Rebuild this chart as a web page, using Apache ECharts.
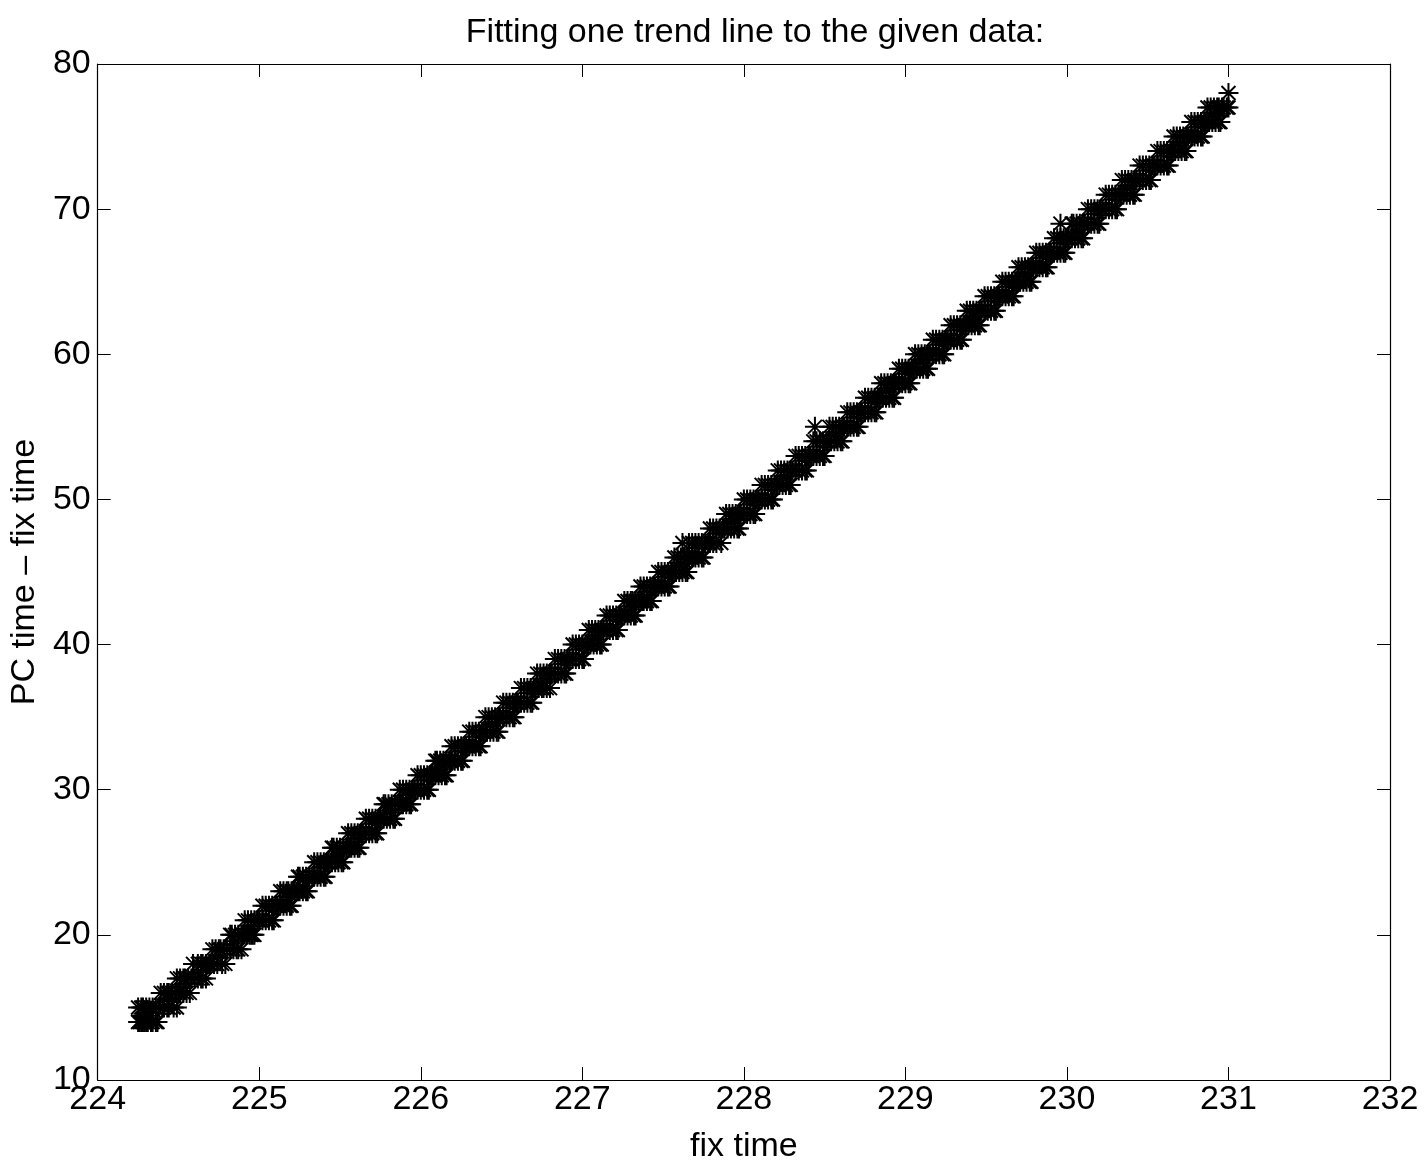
<!DOCTYPE html>
<html>
<head>
<meta charset="utf-8">
<script src="https://cdn.jsdelivr.net/npm/echarts@6/dist/echarts.min.js"></script>
<style>
html,body{margin:0;padding:0;background:#fff;}
#chart{width:1426px;height:1169px;}
</style>
</head>
<body>
<div id="chart"></div>
<script>
// Tick labels
const xTicks = [224, 225, 226, 227, 228, 229, 230, 231, 232];
const yTicks = [10, 20, 30, 40, 50, 60, 70, 80];

// PC time − fix time levels (integer seconds)
const yLevels = [14,15,16,17,18,19,20,21,22,23,24,25,26,27,28,29,30,31,32,33,34,35,36,37,38,39,40,41,42,43,44,45,46,47,48,49,50,51,52,53,54,55,56,57,58,59,60,61,62,63,64,65,66,67,68,69,70,71,72,73,74,75,76,77,78];

// fix time values observed at each level
const xByLevel = [
  [224.25, 224.26, 224.27, 224.28, 224.29, 224.30, 224.31, 224.33, 224.34, 224.36, 224.37],
  [224.25, 224.27, 224.28, 224.30, 224.32, 224.34, 224.36, 224.38, 224.41, 224.43, 224.44, 224.47, 224.49],
  [224.39, 224.41, 224.43, 224.44, 224.46, 224.48, 224.50, 224.51, 224.53, 224.55, 224.57],
  [224.49, 224.51, 224.53, 224.54, 224.56, 224.58, 224.60, 224.62, 224.64, 224.65, 224.67],
  [224.59, 224.62, 224.64, 224.65, 224.67, 224.69, 224.70, 224.72, 224.74, 224.77, 224.79],
  [224.71, 224.73, 224.75, 224.76, 224.78, 224.80, 224.82, 224.84, 224.86, 224.87, 224.89],
  [224.82, 224.83, 224.85, 224.87, 224.89, 224.90, 224.92, 224.94, 224.95, 224.96, 224.97],
  [224.91, 224.93, 224.95, 224.97, 224.99, 225.00, 225.02, 225.04, 225.06, 225.08, 225.09],
  [225.02, 225.04, 225.06, 225.08, 225.10, 225.11, 225.13, 225.15, 225.17, 225.19, 225.20],
  [225.13, 225.15, 225.17, 225.18, 225.20, 225.22, 225.24, 225.25, 225.27, 225.29, 225.30],
  [225.24, 225.25, 225.27, 225.29, 225.31, 225.33, 225.34, 225.36, 225.38, 225.40, 225.41],
  [225.34, 225.36, 225.38, 225.40, 225.42, 225.43, 225.45, 225.47, 225.49, 225.51, 225.52],
  [225.45, 225.46, 225.48, 225.50, 225.52, 225.54, 225.56, 225.57, 225.59, 225.61, 225.62],
  [225.55, 225.57, 225.59, 225.61, 225.63, 225.64, 225.66, 225.68, 225.70, 225.72, 225.73],
  [225.66, 225.68, 225.70, 225.72, 225.74, 225.75, 225.77, 225.79, 225.81, 225.83, 225.84],
  [225.77, 225.78, 225.80, 225.82, 225.84, 225.86, 225.88, 225.89, 225.91, 225.93, 225.94],
  [225.87, 225.89, 225.91, 225.93, 225.95, 225.96, 225.98, 226.00, 226.02, 226.04, 226.05],
  [225.98, 226.00, 226.02, 226.04, 226.06, 226.07, 226.09, 226.11, 226.13, 226.15, 226.16],
  [226.09, 226.10, 226.12, 226.14, 226.16, 226.18, 226.19, 226.21, 226.23, 226.25, 226.26],
  [226.19, 226.21, 226.23, 226.25, 226.27, 226.28, 226.30, 226.32, 226.34, 226.36, 226.37],
  [226.30, 226.32, 226.34, 226.36, 226.38, 226.39, 226.41, 226.43, 226.45, 226.47, 226.48],
  [226.40, 226.42, 226.44, 226.46, 226.48, 226.49, 226.51, 226.53, 226.55, 226.57, 226.58],
  [226.51, 226.53, 226.55, 226.57, 226.59, 226.60, 226.62, 226.64, 226.66, 226.68, 226.69],
  [226.62, 226.64, 226.66, 226.68, 226.70, 226.71, 226.73, 226.75, 226.76, 226.78, 226.80],
  [226.72, 226.74, 226.76, 226.78, 226.80, 226.81, 226.83, 226.85, 226.87, 226.89, 226.90],
  [226.83, 226.85, 226.87, 226.89, 226.91, 226.92, 226.94, 226.96, 226.98, 227.00, 227.01],
  [226.94, 226.96, 226.98, 227.00, 227.02, 227.03, 227.05, 227.07, 227.09, 227.11, 227.12],
  [227.04, 227.06, 227.08, 227.10, 227.12, 227.13, 227.15, 227.17, 227.19, 227.21, 227.22],
  [227.15, 227.17, 227.19, 227.21, 227.23, 227.24, 227.26, 227.28, 227.30, 227.32, 227.33],
  [227.26, 227.28, 227.30, 227.31, 227.33, 227.35, 227.37, 227.38, 227.40, 227.42, 227.43],
  [227.36, 227.38, 227.40, 227.42, 227.44, 227.45, 227.47, 227.49, 227.51, 227.53, 227.54],
  [227.47, 227.49, 227.51, 227.53, 227.55, 227.56, 227.58, 227.60, 227.62, 227.64, 227.65],
  [227.57, 227.59, 227.61, 227.63, 227.65, 227.66, 227.68, 227.70, 227.72, 227.74, 227.75],
  [227.62, 227.66, 227.68, 227.70, 227.72, 227.74, 227.76, 227.78, 227.79, 227.81, 227.83, 227.86],
  [227.79, 227.81, 227.83, 227.85, 227.87, 227.88, 227.90, 227.92, 227.94, 227.96, 227.97],
  [227.89, 227.91, 227.93, 227.95, 227.97, 227.98, 228.00, 228.02, 228.04, 228.06, 228.07],
  [228.00, 228.02, 228.04, 228.06, 228.08, 228.09, 228.11, 228.13, 228.15, 228.17, 228.18],
  [228.11, 228.13, 228.15, 228.17, 228.19, 228.20, 228.22, 228.24, 228.26, 228.28, 228.29],
  [228.21, 228.23, 228.25, 228.27, 228.29, 228.30, 228.32, 228.34, 228.36, 228.38, 228.39],
  [228.32, 228.34, 228.36, 228.38, 228.40, 228.41, 228.43, 228.45, 228.47, 228.49, 228.50],
  [228.43, 228.45, 228.47, 228.49, 228.51, 228.52, 228.54, 228.56, 228.58, 228.60, 228.61],
  [228.44, 228.53, 228.55, 228.57, 228.59, 228.61, 228.62, 228.64, 228.66, 228.68, 228.70, 228.71],
  [228.64, 228.66, 228.68, 228.70, 228.72, 228.73, 228.75, 228.77, 228.79, 228.81, 228.82],
  [228.75, 228.77, 228.79, 228.81, 228.83, 228.84, 228.86, 228.88, 228.90, 228.92, 228.93],
  [228.85, 228.87, 228.89, 228.91, 228.93, 228.94, 228.96, 228.98, 229.00, 229.02, 229.03],
  [228.96, 228.98, 229.00, 229.02, 229.04, 229.05, 229.07, 229.09, 229.11, 229.13, 229.14],
  [229.06, 229.08, 229.10, 229.12, 229.14, 229.15, 229.17, 229.19, 229.21, 229.23, 229.24],
  [229.17, 229.19, 229.21, 229.23, 229.25, 229.26, 229.28, 229.30, 229.32, 229.34, 229.35],
  [229.28, 229.30, 229.32, 229.34, 229.36, 229.37, 229.39, 229.41, 229.43, 229.45, 229.46],
  [229.38, 229.40, 229.42, 229.44, 229.46, 229.47, 229.49, 229.51, 229.53, 229.55, 229.56],
  [229.49, 229.51, 229.53, 229.55, 229.57, 229.58, 229.60, 229.62, 229.64, 229.66, 229.67],
  [229.60, 229.62, 229.64, 229.66, 229.68, 229.69, 229.71, 229.73, 229.75, 229.77, 229.78],
  [229.70, 229.72, 229.74, 229.76, 229.78, 229.79, 229.81, 229.83, 229.85, 229.87, 229.88],
  [229.81, 229.83, 229.85, 229.87, 229.89, 229.90, 229.92, 229.94, 229.96, 229.98, 229.99],
  [229.92, 229.94, 229.96, 229.98, 230.00, 230.01, 230.03, 230.05, 230.07, 230.09, 230.10],
  [229.96, 230.03, 230.04, 230.06, 230.08, 230.10, 230.11, 230.13, 230.15, 230.17, 230.19, 230.20],
  [230.13, 230.15, 230.17, 230.19, 230.21, 230.22, 230.24, 230.26, 230.28, 230.30, 230.31],
  [230.24, 230.26, 230.28, 230.30, 230.32, 230.33, 230.35, 230.37, 230.39, 230.41, 230.42],
  [230.34, 230.36, 230.38, 230.40, 230.42, 230.43, 230.45, 230.47, 230.49, 230.51, 230.52],
  [230.45, 230.47, 230.49, 230.51, 230.53, 230.54, 230.56, 230.58, 230.60, 230.62, 230.63],
  [230.56, 230.58, 230.60, 230.62, 230.64, 230.65, 230.67, 230.69, 230.71, 230.73, 230.74],
  [230.66, 230.68, 230.70, 230.72, 230.74, 230.75, 230.77, 230.79, 230.81, 230.83, 230.84],
  [230.77, 230.79, 230.81, 230.83, 230.85, 230.86, 230.88, 230.90, 230.92, 230.94, 230.95],
  [230.87, 230.89, 230.91, 230.93, 230.94, 230.96, 230.97, 230.99, 231.00],
  [231.00]
];

const points = [];
yLevels.forEach((y, i) => xByLevel[i].forEach(x => points.push([x, y])));

const FONT = '"Liberation Sans", Arial, sans-serif';
const FS = 34;
const asterisk = 'path://M10,0L10,20M0,10L20,10M3,3L17,17M3,17L17,3';

const chart = echarts.init(document.getElementById('chart'), null, {renderer: 'canvas'});
const axisLineStyle = {color: '#000', width: 1.2};
const tickStyle = {show: true, inside: true, length: 13, lineStyle: {color: '#000', width: 1}};
chart.setOption({
  animation: false,
  backgroundColor: '#fff',
  title: {
    text: 'Fitting one trend line to the given data:',
    left: 750, top: 11, textAlign: 'center',
    textStyle: {fontFamily: FONT, fontSize: FS, fontWeight: 'normal', color: '#000'}
  },
  grid: {left: 97, right: 36, top: 64, bottom: 85, containLabel: false},
  xAxis: [{
    type: 'value', min: 224, max: 232, interval: 1, position: 'bottom',
    name: 'fix time', nameLocation: 'middle', nameGap: 50,
    nameTextStyle: {fontFamily: FONT, fontSize: FS, color: '#000'},
    axisLine: {show: true, lineStyle: axisLineStyle},
    axisTick: tickStyle,
    axisLabel: {fontFamily: FONT, fontSize: FS, color: '#000', margin: 3,
      formatter: v => xTicks.includes(v) ? String(v) : ''},
    splitLine: {show: false}
  }, {
    type: 'value', min: 224, max: 232, interval: 1, position: 'top',
    axisLine: {show: true, lineStyle: axisLineStyle},
    axisTick: tickStyle,
    axisLabel: {show: false}, splitLine: {show: false}
  }],
  yAxis: [{
    type: 'value', min: 10, max: 80, interval: 10, position: 'left',
    name: 'PC time – fix time', nameLocation: 'middle', nameGap: 54,
    nameTextStyle: {fontFamily: FONT, fontSize: FS, color: '#000'},
    axisLine: {show: true, lineStyle: axisLineStyle},
    axisTick: tickStyle,
    axisLabel: {fontFamily: FONT, fontSize: FS, color: '#000', margin: 7,
      formatter: v => yTicks.includes(v) ? String(v) : ''},
    splitLine: {show: false}
  }, {
    type: 'value', min: 10, max: 80, interval: 10, position: 'right',
    axisLine: {show: true, lineStyle: axisLineStyle},
    axisTick: tickStyle,
    axisLabel: {show: false}, splitLine: {show: false}
  }],
  series: [{
    type: 'scatter',
    xAxisIndex: 0, yAxisIndex: 0,
    data: points,
    symbol: asterisk,
    symbolSize: 20,
    itemStyle: {color: 'none', borderColor: '#000', borderWidth: 2, opacity: 1},
    emphasis: {disabled: true},
    silent: true
  }]
});
</script>
</body>
</html>
